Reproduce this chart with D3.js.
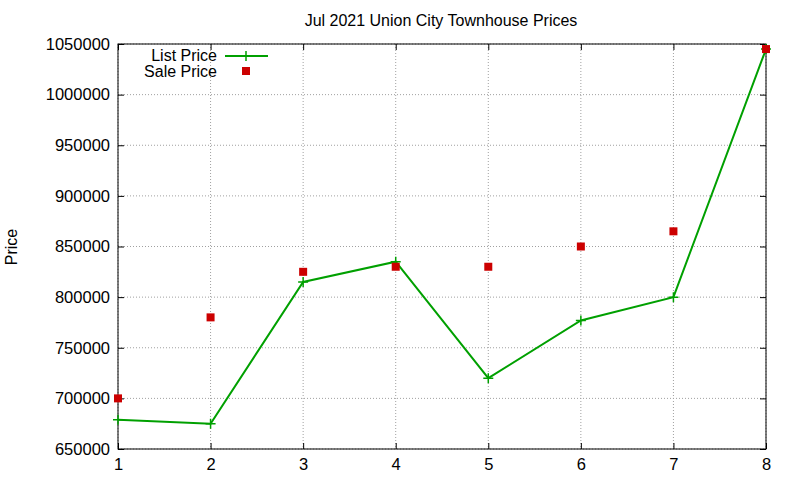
<!DOCTYPE html>
<html><head><meta charset="utf-8">
<script src="https://cdn.jsdelivr.net/npm/d3@7"></script>
<style>body{margin:0;background:#fff}text{font-family:"Liberation Sans",Arial,sans-serif}</style>
</head><body><svg id="c" width="800" height="480"></svg>
<script>
const xs=[1,2,3,4,5,6,7,8];
const listPrice=[679000,675000,815000,835000,720000,777000,800000,1045000];
const salePrice=[700000,780000,825000,830000,830000,850000,865000,1045000];
const yTicks=[650000,700000,750000,800000,850000,900000,950000,1000000,1050000];
const svg=d3.select("#c");
const L=118,R=766,T=44,B=449;
const x=d3.scaleLinear().domain([1,8]).range([L,R]);
const y=d3.scaleLinear().domain([650000,1050000]).range([B,T]);
const g=svg.append("g");
xs.forEach(v=>g.append("line").attr("x1",x(v)).attr("x2",x(v)).attr("y1",T).attr("y2",B).attr("stroke","#a0a0a0").attr("stroke-dasharray","1,2"));
yTicks.forEach(v=>g.append("line").attr("x1",L).attr("x2",R).attr("y1",y(v)).attr("y2",y(v)).attr("stroke","#a0a0a0").attr("stroke-dasharray","1,2"));
const ax=(a)=>a.tickSizeOuter(0);
svg.append("g").attr("transform",`translate(0,${B})`).call(ax(d3.axisBottom(x).tickValues(xs).tickFormat(d3.format("d")).tickSizeInner(-6).tickPadding(9)));
svg.append("g").attr("transform",`translate(0,${T})`).call(ax(d3.axisTop(x).tickValues(xs).tickFormat("").tickSizeInner(-6)));
svg.append("g").attr("transform",`translate(${L},0)`).call(ax(d3.axisLeft(y).tickValues(yTicks).tickFormat(d3.format("d")).tickSizeInner(-6).tickPadding(8)));
svg.append("g").attr("transform",`translate(${R},0)`).call(ax(d3.axisRight(y).tickValues(yTicks).tickFormat("").tickSizeInner(-6)));
svg.selectAll(".domain").remove();
svg.selectAll(".tick text").attr("font-size",16.5).attr("fill","#000");
svg.append("rect").attr("x",L).attr("y",T).attr("width",R-L).attr("height",B-T).attr("fill","none").attr("stroke","#000");
const line=d3.line().x((d,i)=>x(xs[i])).y(d=>y(d));
svg.append("path").datum(listPrice).attr("d",line).attr("fill","none").attr("stroke","#00a000").attr("stroke-width",2);
const plus=(px,py)=>`M${px-5},${py}H${px+5}M${px},${py-5}V${py+5}`;
svg.append("path").attr("d",listPrice.map((d,i)=>plus(x(xs[i]),y(d))).join("")).attr("stroke","#00a000").attr("stroke-width",1.5);
svg.selectAll(".sp").data(salePrice).enter().append("rect").attr("x",(d,i)=>x(xs[i])-4).attr("y",d=>y(d)-4).attr("width",8).attr("height",8).attr("fill","#cc0000");
svg.append("text").attr("x",217).attr("y",61).attr("text-anchor","end").attr("font-size",16).text("List Price");
svg.append("line").attr("x1",225).attr("x2",268).attr("y1",56).attr("y2",56).attr("stroke","#00a000").attr("stroke-width",2);
svg.append("path").attr("d",plus(246,56)).attr("stroke","#00a000").attr("stroke-width",1.5);
svg.append("text").attr("x",217).attr("y",77).attr("text-anchor","end").attr("font-size",16).text("Sale Price");
svg.append("rect").attr("x",242).attr("y",67).attr("width",8).attr("height",8).attr("fill","#cc0000");
svg.append("text").attr("x",441).attr("y",26).attr("text-anchor","middle").attr("font-size",16).text("Jul 2021 Union City Townhouse Prices");
svg.append("text").attr("transform","translate(17,247) rotate(-90)").attr("text-anchor","middle").attr("font-size",16).text("Price");
</script></body></html>
